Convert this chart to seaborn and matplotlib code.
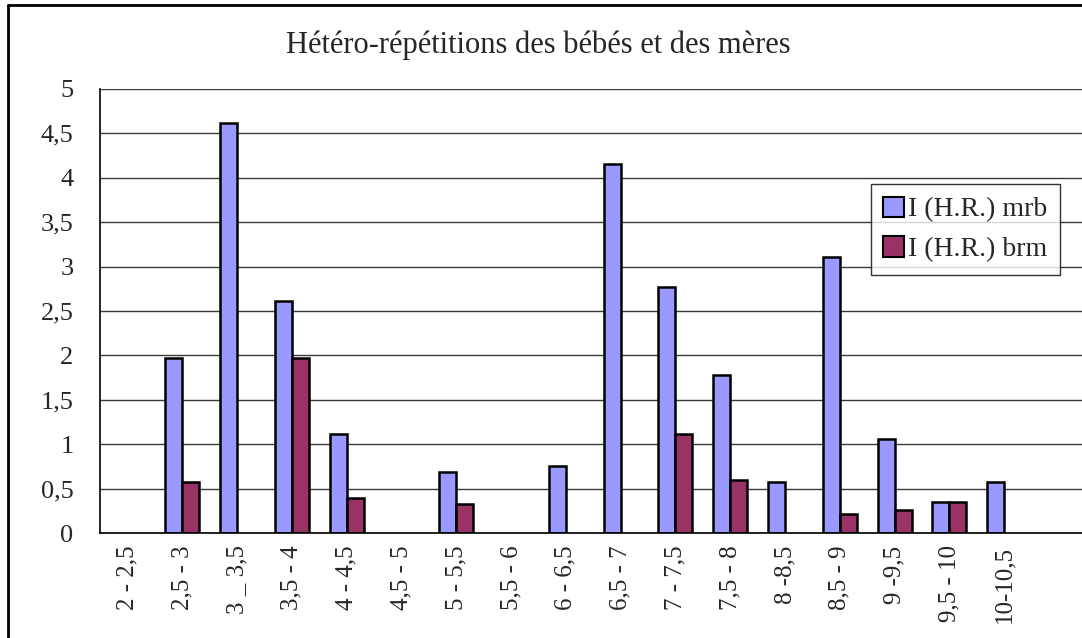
import numpy as np
import pandas as pd
import matplotlib
matplotlib.use("Agg")
import matplotlib.pyplot as plt
from matplotlib.lines import Line2D
import seaborn as sns

categories = ["2 - 2,5", "2,5 - 3", "3 _ 3,5", "3,5 - 4", "4 - 4,5", "4,5 - 5",
              "5 - 5,5", "5,5 - 6", "6 - 6,5", "6,5 - 7", "7 - 7,5", "7,5 - 8",
              "8 -8,5", "8,5 - 9", "9 -9,5", "9,5 - 10", "10-10,5"]
mrb = [0, 1.97, 4.62, 2.61, 1.12, 0, 0.69, 0, 0.76, 4.15, 2.77, 1.78,
       0.57, 3.11, 1.06, 0.35, 0.57]
brm = [0, 0.57, 0, 1.97, 0.39, 0, 0.33, 0, 0, 0, 1.12, 0.60,
       0, 0.21, 0.26, 0.35, 0]
series = ["I (H.R.) mrb", "I (H.R.) brm"]
yticks = [0, 0.5, 1, 1.5, 2, 2.5, 3, 3.5, 4, 4.5, 5]

df = pd.DataFrame({
    "cat": categories * 2,
    "val": mrb + brm,
    "serie": [series[0]] * len(mrb) + [series[1]] * len(brm),
})

sns.set_style("white")
plt.rcParams["font.family"] = ["Liberation Serif", "DejaVu Serif"]

fig = plt.figure(figsize=(10.82, 6.38), dpi=100)
ax = fig.add_axes([100 / 1082, 1 - 533 / 638, 1 - 100 / 1082, (533 - 89) / 638])

sns.barplot(data=df, x="cat", y="val", hue="serie", order=categories,
            hue_order=series, palette=["#9999ff", "#993366"],
            width=0.62, gap=0, edgecolor="black", linewidth=1.8,
            saturation=1, ax=ax, legend=True)

# pas de barre visible pour les valeurs nulles
for cont in ax.containers:
    for bar in cont:
        if bar.get_height() == 0:
            bar.set_visible(False)

ax.set_xlim(-0.5, (1082 - 100) / 54.8 - 0.5)
ax.set_ylim(0, 5)
ax.set_yticks(yticks)
ax.set_yticklabels([f"{v:g}".replace(".", ",") for v in yticks], fontsize=19)
ax.yaxis.grid(True, color="#3a3a3a", linewidth=1.0)
ax.set_axisbelow(True)

ax.set_xticks(range(len(categories)))
ax.set_xticklabels(categories, rotation=90, fontsize=18)
ax.set_xticks(np.arange(len(categories) + 1) - 0.5, minor=True)
ax.tick_params(axis="x", which="major", length=0, pad=9)
ax.tick_params(axis="x", which="minor", length=6, width=1, color="black",
               direction="out")
ax.tick_params(axis="y", length=8, width=1, color="black", direction="out", pad=11)
ax.set_xlabel("")
ax.set_ylabel("")

for s in ["top", "right"]:
    ax.spines[s].set_visible(False)
for s in ["left", "bottom"]:
    ax.spines[s].set_color("black")
    ax.spines[s].set_linewidth(1.2)

leg = ax.legend(loc="upper left", bbox_to_anchor=(0.785, 0.786), fontsize=20,
                frameon=True, fancybox=False, edgecolor="black",
                handlelength=0.75, handleheight=0.75, handletextpad=0.15,
                borderpad=0.45, labelspacing=0.5, borderaxespad=0)
leg.get_frame().set_linewidth(1.0)
for h in leg.legend_handles:
    h.set_edgecolor("black")
    h.set_linewidth(1.5)

fig.text(538 / 1082, 1 - 45 / 638, "Hétéro-répétitions des bébés et des mères",
         ha="center", va="center", fontsize=22)

# cadre extérieur
fig.add_artist(Line2D([8 / 1082, 8 / 1082], [0, 1 - 5 / 638],
                      transform=fig.transFigure, color="black", linewidth=2))
fig.add_artist(Line2D([8 / 1082, 1], [1 - 5 / 638, 1 - 5 / 638],
                      transform=fig.transFigure, color="black", linewidth=2))

fig.savefig("out.png", dpi=100)
